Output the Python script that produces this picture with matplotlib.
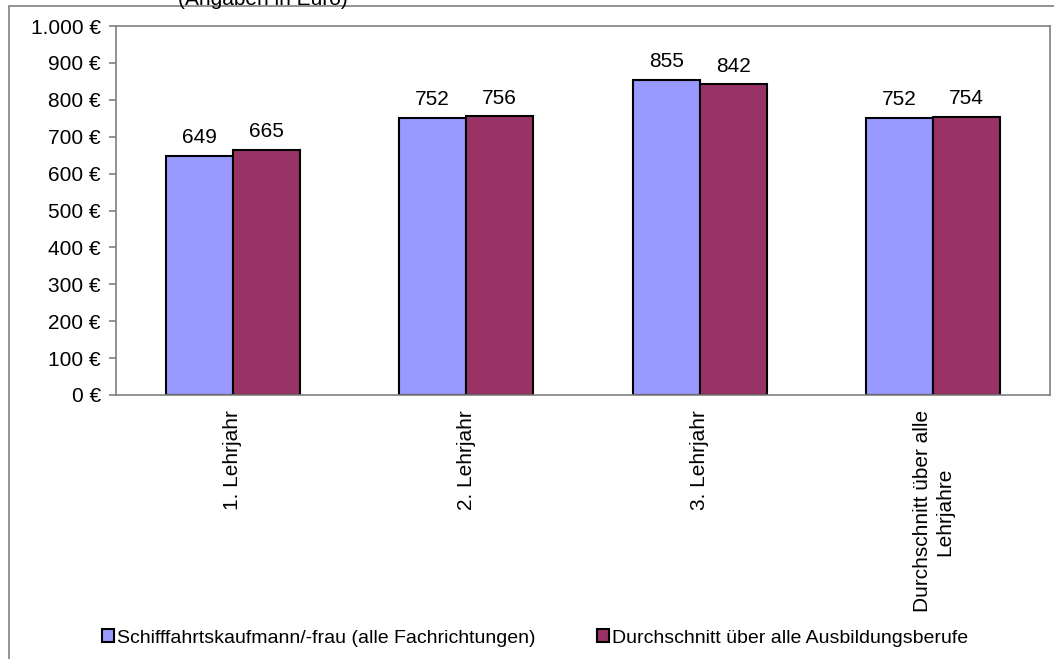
import numpy as np
import matplotlib
matplotlib.use("Agg")
import matplotlib.pyplot as plt
from matplotlib.patches import Rectangle

plt.rcParams['font.family'] = ['Liberation Sans', 'DejaVu Sans']

# - - - - - - - DATA - - - - - - - #
categories = ["1. Lehrjahr", "2. Lehrjahr", "3. Lehrjahr",
              "Durchschnitt über alle\nLehrjahre"]
schiff = [649, 752, 855, 752]
alle = [665, 756, 842, 754]
series_names = ["Schifffahrtskaufmann/-frau (alle Fachrichtungen)",
                "Durchschnitt über alle Ausbildungsberufe"]
yticks = np.arange(0, 1001, 100)

# - - - - - - - PLOT - - - - - - - #
W, H = 1054, 659
fig = plt.figure(figsize=(W / 100, H / 100), dpi=100)

# outer chart frame
fig.patches.append(Rectangle((9 / W, -0.1), 1.2, 1 - 6 / H + 0.1,
                             transform=fig.transFigure, fill=False,
                             edgecolor="#808080", linewidth=1.2))
fig.text(263 / W, 1 - 5 / H, "(Angaben in Euro)", ha="center", va="baseline",
         fontsize=15)

ax = fig.add_axes([116 / W, 1 - 395 / H, (1050 - 116) / W, (395 - 26) / H])

x = np.arange(len(categories))
w = 0.287
b1 = ax.bar(x - w / 2, schiff, w, color="#9999FF", edgecolor="black",
            linewidth=1.5, label=series_names[0])
b2 = ax.bar(x + w / 2, alle, w, color="#993366", edgecolor="black",
            linewidth=1.5, label=series_names[1])

for bars in (b1, b2):
    for r in bars:
        ax.annotate(f"{r.get_height():.0f}",
                    (r.get_x() + r.get_width() / 2, r.get_height()),
                    xytext=(0, 6), textcoords="offset points",
                    ha="center", va="bottom", fontsize=15)

ax.set_xlim(-0.5, len(categories) - 0.5)
ax.set_ylim(0, 1000)
ax.set_yticks(yticks)
ax.set_yticklabels([f"{v:,} €".replace(",", ".") for v in yticks], fontsize=15)
ax.set_xticks(x)
ax.set_xticklabels(categories, rotation=90, fontsize=15)
ax.tick_params(axis="x", length=0, pad=11)
ax.tick_params(axis="y", length=5, color="#808080", width=1.2, pad=6)
for s in ax.spines.values():
    s.set_color("#808080")
    s.set_linewidth(1.2)

fig.legend(handles=[b1, b2], loc="center", ncol=2,
           bbox_to_anchor=(535 / W, 1 - 638 / H), frameon=False, fontsize=14,
           handlelength=0.62, handleheight=0.62, handletextpad=0.12,
           columnspacing=3.2, borderaxespad=0)

plt.savefig("out.png", dpi=100)
